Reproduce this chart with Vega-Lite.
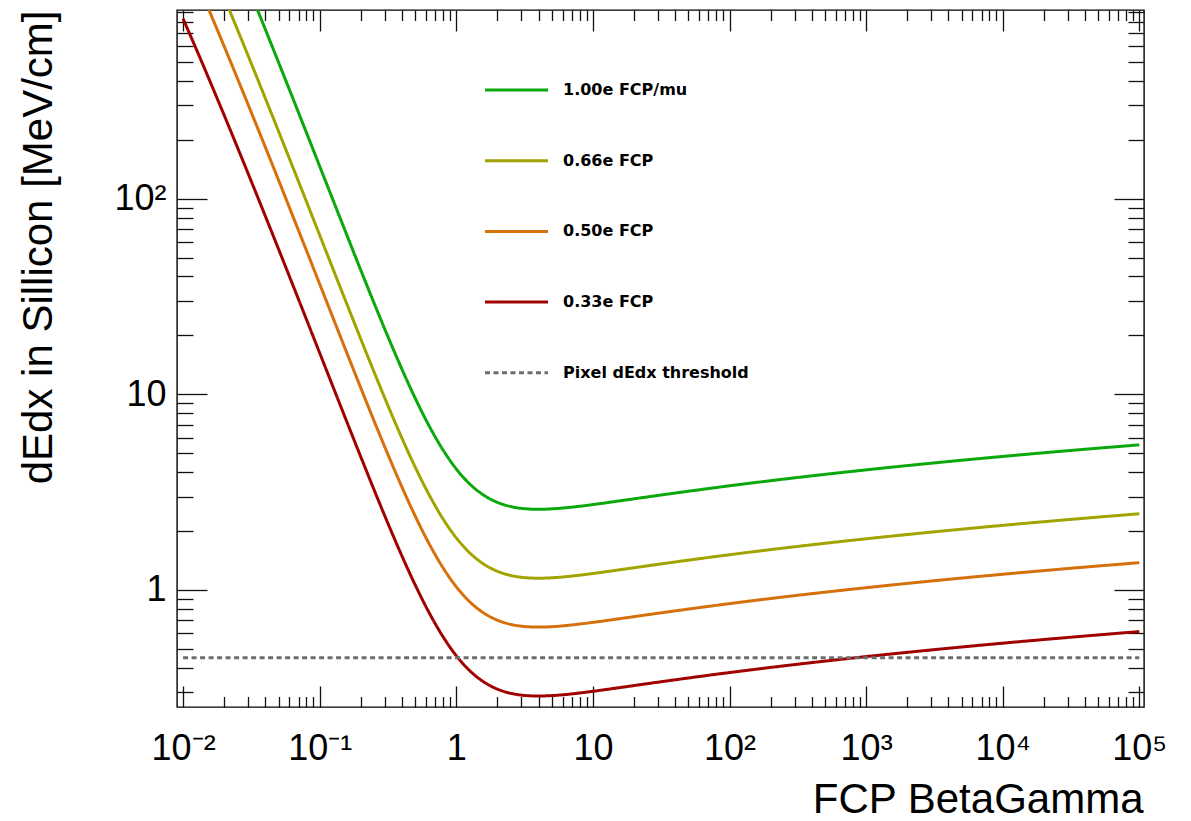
{
  "$schema": "https://vega.github.io/schema/vega-lite/v6.json",
  "width": 967,
  "height": 697,
  "autosize": {"type": "none"},
  "padding": {"left": 177, "top": 10, "right": 47, "bottom": 114},
  "background": "white",
  "config": {
    "font": "Liberation Sans",
    "view": {"stroke": "#000", "strokeWidth": 1.4},
    "axis": {
      "domain": false, "grid": false, "tickColor": "#111", "tickWidth": 1.3,
      "labelFont": "Liberation Sans", "labelFontSize": 36, "labelColor": "#000",
      "titleFont": "Liberation Sans", "titleFontSize": 42, "titleFontWeight": "normal", "titleColor": "#000",
      "labelFlush": false, "labelOverlap": false
    },
    "legend": {
      "orient": "none", "legendX": 306.5, "legendY": 47, "padding": 0, "offset": 0,
      "symbolType": "stroke", "symbolSize": 3969, "symbolStrokeWidth": 3,
      "labelFont": "DejaVu Sans", "labelFontSize": 16, "labelFontWeight": "bold", "labelColor": "#000",
      "rowPadding": 29.7, "labelOffset": 13.5, "labelLimit": 400, "title": null
    }
  },
  "datasets": {
    "curves": [
      {"bg": 0.031623, "dEdx": 1099.2, "series": "1.00e FCP/mu"},
      {"bg": 0.039811, "dEdx": 738.3, "series": "1.00e FCP/mu"},
      {"bg": 0.050119, "dEdx": 494.3, "series": "1.00e FCP/mu"},
      {"bg": 0.063096, "dEdx": 330.0, "series": "1.00e FCP/mu"},
      {"bg": 0.079433, "dEdx": 219.9, "series": "1.00e FCP/mu"},
      {"bg": 0.1, "dEdx": 146.3, "series": "1.00e FCP/mu"},
      {"bg": 0.12589, "dEdx": 97.29, "series": "1.00e FCP/mu"},
      {"bg": 0.15849, "dEdx": 64.76, "series": "1.00e FCP/mu"},
      {"bg": 0.19953, "dEdx": 43.23, "series": "1.00e FCP/mu"},
      {"bg": 0.25119, "dEdx": 29.015, "series": "1.00e FCP/mu"},
      {"bg": 0.31623, "dEdx": 19.663, "series": "1.00e FCP/mu"},
      {"bg": 0.39811, "dEdx": 13.529, "series": "1.00e FCP/mu"},
      {"bg": 0.50119, "dEdx": 9.521, "series": "1.00e FCP/mu"},
      {"bg": 0.63096, "dEdx": 6.915, "series": "1.00e FCP/mu"},
      {"bg": 0.79433, "dEdx": 5.231, "series": "1.00e FCP/mu"},
      {"bg": 1, "dEdx": 4.1534, "series": "1.00e FCP/mu"},
      {"bg": 1.2589, "dEdx": 3.4736, "series": "1.00e FCP/mu"},
      {"bg": 1.5849, "dEdx": 3.0542, "series": "1.00e FCP/mu"},
      {"bg": 1.9953, "dEdx": 2.8052, "series": "1.00e FCP/mu"},
      {"bg": 2.5119, "dEdx": 2.6675, "series": "1.00e FCP/mu"},
      {"bg": 3.1623, "dEdx": 2.6024, "series": "1.00e FCP/mu"},
      {"bg": 3.9811, "dEdx": 2.5848, "series": "1.00e FCP/mu"},
      {"bg": 5.0119, "dEdx": 2.5979, "series": "1.00e FCP/mu"},
      {"bg": 6.3096, "dEdx": 2.6311, "series": "1.00e FCP/mu"},
      {"bg": 7.9433, "dEdx": 2.6774, "series": "1.00e FCP/mu"},
      {"bg": 10, "dEdx": 2.7322, "series": "1.00e FCP/mu"},
      {"bg": 15.849, "dEdx": 2.8562, "series": "1.00e FCP/mu"},
      {"bg": 31.623, "dEdx": 3.0584, "series": "1.00e FCP/mu"},
      {"bg": 100, "dEdx": 3.4071, "series": "1.00e FCP/mu"},
      {"bg": 316.23, "dEdx": 3.7584, "series": "1.00e FCP/mu"},
      {"bg": 1000, "dEdx": 4.110, "series": "1.00e FCP/mu"},
      {"bg": 3162.3, "dEdx": 4.4616, "series": "1.00e FCP/mu"},
      {"bg": 10000, "dEdx": 4.8132, "series": "1.00e FCP/mu"},
      {"bg": 31623, "dEdx": 5.1648, "series": "1.00e FCP/mu"},
      {"bg": 100000, "dEdx": 5.5164, "series": "1.00e FCP/mu"},

      {"bg": 0.019953, "dEdx": 1069.4, "series": "0.66e FCP"},
      {"bg": 0.025119, "dEdx": 724.4, "series": "0.66e FCP"},
      {"bg": 0.031623, "dEdx": 488.5, "series": "0.66e FCP"},
      {"bg": 0.039811, "dEdx": 328.1, "series": "0.66e FCP"},
      {"bg": 0.050119, "dEdx": 219.7, "series": "0.66e FCP"},
      {"bg": 0.063096, "dEdx": 146.7, "series": "0.66e FCP"},
      {"bg": 0.079433, "dEdx": 97.73, "series": "0.66e FCP"},
      {"bg": 0.1, "dEdx": 65.02, "series": "0.66e FCP"},
      {"bg": 0.12589, "dEdx": 43.24, "series": "0.66e FCP"},
      {"bg": 0.15849, "dEdx": 28.78, "series": "0.66e FCP"},
      {"bg": 0.19953, "dEdx": 19.21, "series": "0.66e FCP"},
      {"bg": 0.25119, "dEdx": 12.896, "series": "0.66e FCP"},
      {"bg": 0.31623, "dEdx": 8.739, "series": "0.66e FCP"},
      {"bg": 0.39811, "dEdx": 6.013, "series": "0.66e FCP"},
      {"bg": 0.50119, "dEdx": 4.232, "series": "0.66e FCP"},
      {"bg": 0.63096, "dEdx": 3.073, "series": "0.66e FCP"},
      {"bg": 0.79433, "dEdx": 2.325, "series": "0.66e FCP"},
      {"bg": 1, "dEdx": 1.846, "series": "0.66e FCP"},
      {"bg": 1.2589, "dEdx": 1.5438, "series": "0.66e FCP"},
      {"bg": 1.5849, "dEdx": 1.3574, "series": "0.66e FCP"},
      {"bg": 1.9953, "dEdx": 1.2468, "series": "0.66e FCP"},
      {"bg": 2.5119, "dEdx": 1.1856, "series": "0.66e FCP"},
      {"bg": 3.1623, "dEdx": 1.1566, "series": "0.66e FCP"},
      {"bg": 3.9811, "dEdx": 1.1488, "series": "0.66e FCP"},
      {"bg": 5.0119, "dEdx": 1.1546, "series": "0.66e FCP"},
      {"bg": 6.3096, "dEdx": 1.1694, "series": "0.66e FCP"},
      {"bg": 7.9433, "dEdx": 1.19, "series": "0.66e FCP"},
      {"bg": 10, "dEdx": 1.2143, "series": "0.66e FCP"},
      {"bg": 15.849, "dEdx": 1.2694, "series": "0.66e FCP"},
      {"bg": 31.623, "dEdx": 1.3593, "series": "0.66e FCP"},
      {"bg": 100, "dEdx": 1.5143, "series": "0.66e FCP"},
      {"bg": 316.23, "dEdx": 1.6704, "series": "0.66e FCP"},
      {"bg": 1000, "dEdx": 1.8267, "series": "0.66e FCP"},
      {"bg": 3162.3, "dEdx": 1.9829, "series": "0.66e FCP"},
      {"bg": 10000, "dEdx": 2.1392, "series": "0.66e FCP"},
      {"bg": 31623, "dEdx": 2.2955, "series": "0.66e FCP"},
      {"bg": 100000, "dEdx": 2.4517, "series": "0.66e FCP"},

      {"bg": 0.012589, "dEdx": 1288.8, "series": "0.50e FCP"},
      {"bg": 0.015849, "dEdx": 883.3, "series": "0.50e FCP"},
      {"bg": 0.019953, "dEdx": 601.6, "series": "0.50e FCP"},
      {"bg": 0.025119, "dEdx": 407.5, "series": "0.50e FCP"},
      {"bg": 0.031623, "dEdx": 274.8, "series": "0.50e FCP"},
      {"bg": 0.039811, "dEdx": 184.6, "series": "0.50e FCP"},
      {"bg": 0.050119, "dEdx": 123.6, "series": "0.50e FCP"},
      {"bg": 0.063096, "dEdx": 82.5, "series": "0.50e FCP"},
      {"bg": 0.079433, "dEdx": 54.98, "series": "0.50e FCP"},
      {"bg": 0.1, "dEdx": 36.58, "series": "0.50e FCP"},
      {"bg": 0.12589, "dEdx": 24.32, "series": "0.50e FCP"},
      {"bg": 0.15849, "dEdx": 16.19, "series": "0.50e FCP"},
      {"bg": 0.19953, "dEdx": 10.81, "series": "0.50e FCP"},
      {"bg": 0.25119, "dEdx": 7.254, "series": "0.50e FCP"},
      {"bg": 0.31623, "dEdx": 4.916, "series": "0.50e FCP"},
      {"bg": 0.39811, "dEdx": 3.382, "series": "0.50e FCP"},
      {"bg": 0.50119, "dEdx": 2.380, "series": "0.50e FCP"},
      {"bg": 0.63096, "dEdx": 1.7288, "series": "0.50e FCP"},
      {"bg": 0.79433, "dEdx": 1.3078, "series": "0.50e FCP"},
      {"bg": 1, "dEdx": 1.0384, "series": "0.50e FCP"},
      {"bg": 1.2589, "dEdx": 0.8684, "series": "0.50e FCP"},
      {"bg": 1.5849, "dEdx": 0.7636, "series": "0.50e FCP"},
      {"bg": 1.9953, "dEdx": 0.7013, "series": "0.50e FCP"},
      {"bg": 2.5119, "dEdx": 0.6669, "series": "0.50e FCP"},
      {"bg": 3.1623, "dEdx": 0.6506, "series": "0.50e FCP"},
      {"bg": 3.9811, "dEdx": 0.6462, "series": "0.50e FCP"},
      {"bg": 5.0119, "dEdx": 0.6495, "series": "0.50e FCP"},
      {"bg": 6.3096, "dEdx": 0.6578, "series": "0.50e FCP"},
      {"bg": 7.9433, "dEdx": 0.6694, "series": "0.50e FCP"},
      {"bg": 10, "dEdx": 0.6831, "series": "0.50e FCP"},
      {"bg": 15.849, "dEdx": 0.7141, "series": "0.50e FCP"},
      {"bg": 31.623, "dEdx": 0.7646, "series": "0.50e FCP"},
      {"bg": 100, "dEdx": 0.8518, "series": "0.50e FCP"},
      {"bg": 316.23, "dEdx": 0.9396, "series": "0.50e FCP"},
      {"bg": 1000, "dEdx": 1.0275, "series": "0.50e FCP"},
      {"bg": 3162.3, "dEdx": 1.1154, "series": "0.50e FCP"},
      {"bg": 10000, "dEdx": 1.2033, "series": "0.50e FCP"},
      {"bg": 31623, "dEdx": 1.2912, "series": "0.50e FCP"},
      {"bg": 100000, "dEdx": 1.3791, "series": "0.50e FCP"},

      {"bg": 0.01, "dEdx": 829.7, "series": "0.33e FCP"},
      {"bg": 0.012589, "dEdx": 572.8, "series": "0.33e FCP"},
      {"bg": 0.015849, "dEdx": 392.6, "series": "0.33e FCP"},
      {"bg": 0.019953, "dEdx": 267.4, "series": "0.33e FCP"},
      {"bg": 0.025119, "dEdx": 181.1, "series": "0.33e FCP"},
      {"bg": 0.031623, "dEdx": 122.13, "series": "0.33e FCP"},
      {"bg": 0.039811, "dEdx": 82.03, "series": "0.33e FCP"},
      {"bg": 0.050119, "dEdx": 54.92, "series": "0.33e FCP"},
      {"bg": 0.063096, "dEdx": 36.67, "series": "0.33e FCP"},
      {"bg": 0.079433, "dEdx": 24.43, "series": "0.33e FCP"},
      {"bg": 0.1, "dEdx": 16.256, "series": "0.33e FCP"},
      {"bg": 0.12589, "dEdx": 10.81, "series": "0.33e FCP"},
      {"bg": 0.15849, "dEdx": 7.196, "series": "0.33e FCP"},
      {"bg": 0.19953, "dEdx": 4.803, "series": "0.33e FCP"},
      {"bg": 0.25119, "dEdx": 3.224, "series": "0.33e FCP"},
      {"bg": 0.31623, "dEdx": 2.1848, "series": "0.33e FCP"},
      {"bg": 0.39811, "dEdx": 1.5032, "series": "0.33e FCP"},
      {"bg": 0.50119, "dEdx": 1.0579, "series": "0.33e FCP"},
      {"bg": 0.63096, "dEdx": 0.7683, "series": "0.33e FCP"},
      {"bg": 0.79433, "dEdx": 0.5812, "series": "0.33e FCP"},
      {"bg": 1, "dEdx": 0.4615, "series": "0.33e FCP"},
      {"bg": 1.2589, "dEdx": 0.386, "series": "0.33e FCP"},
      {"bg": 1.5849, "dEdx": 0.3394, "series": "0.33e FCP"},
      {"bg": 1.9953, "dEdx": 0.3117, "series": "0.33e FCP"},
      {"bg": 2.5119, "dEdx": 0.2964, "series": "0.33e FCP"},
      {"bg": 3.1623, "dEdx": 0.2892, "series": "0.33e FCP"},
      {"bg": 3.9811, "dEdx": 0.2872, "series": "0.33e FCP"},
      {"bg": 5.0119, "dEdx": 0.2887, "series": "0.33e FCP"},
      {"bg": 6.3096, "dEdx": 0.2923, "series": "0.33e FCP"},
      {"bg": 7.9433, "dEdx": 0.2975, "series": "0.33e FCP"},
      {"bg": 10, "dEdx": 0.3036, "series": "0.33e FCP"},
      {"bg": 15.849, "dEdx": 0.3174, "series": "0.33e FCP"},
      {"bg": 31.623, "dEdx": 0.3398, "series": "0.33e FCP"},
      {"bg": 100, "dEdx": 0.3786, "series": "0.33e FCP"},
      {"bg": 316.23, "dEdx": 0.4176, "series": "0.33e FCP"},
      {"bg": 1000, "dEdx": 0.4567, "series": "0.33e FCP"},
      {"bg": 3162.3, "dEdx": 0.4957, "series": "0.33e FCP"},
      {"bg": 10000, "dEdx": 0.5348, "series": "0.33e FCP"},
      {"bg": 31623, "dEdx": 0.5739, "series": "0.33e FCP"},
      {"bg": 100000, "dEdx": 0.6129, "series": "0.33e FCP"},

      {"bg": 0.01, "dEdx": 0.45, "series": "Pixel dEdx threshold"},
      {"bg": 100000, "dEdx": 0.45, "series": "Pixel dEdx threshold"}
    ],
    "thr": [
      {"bg": 0.01, "dEdx": 0.45},
      {"bg": 100000, "dEdx": 0.45}
    ]
  },
  "layer": [
    {
      "data": {"name": "curves"},
      "mark": {"type": "line", "clip": true, "strokeWidth": 3, "interpolate": "monotone"},
      "encoding": {
        "x": {
          "field": "bg", "type": "quantitative",
          "scale": {"type": "log", "domain": [0.009022, 108250], "nice": false},
          "axis": {
            "orient": "bottom", "values": [0.01, 0.1, 1, 10, 100, 1000, 10000, 100000],
            "tickSize": -21, "labelPadding": 45, "labelBaseline": "top",
            "labelExpr": "datum.value < 0.05 ? '10⁻²' : datum.value < 0.5 ? '10⁻¹' : datum.value < 5 ? '1' : datum.value < 50 ? '10' : datum.value < 500 ? '10²' : datum.value < 5000 ? '10³' : datum.value < 50000 ? '10⁴' : '10⁵'",
            "title": "FCP  BetaGamma", "titleX": 966, "titleY": 105, "titleAlign": "right", "titleAnchor": "end", "titleBaseline": "alphabetic"
          }
        },
        "y": {
          "field": "dEdx", "type": "quantitative",
          "scale": {"type": "log", "domain": [0.2524, 919.9], "nice": false},
          "axis": {
            "orient": "left", "values": [1, 10, 100],
            "tickSize": -30, "labelPadding": 41, "labelBaseline": "middle", "labelAlign": "right",
            "labelExpr": "datum.value < 5 ? '1' : datum.value < 50 ? '10' : '10²'",
            "title": "dEdx in Sillicon [MeV/cm]", "titleX": -125.3, "titleY": 0, "titleAngle": -90,
            "titleAlign": "right", "titleAnchor": "end", "titleBaseline": "alphabetic"
          }
        },
        "color": {
          "field": "series", "type": "nominal",
          "scale": {
            "domain": ["1.00e FCP/mu", "0.66e FCP", "0.50e FCP", "0.33e FCP", "Pixel dEdx threshold"],
            "range": ["#0aa80a", "#a3a300", "#d6700a", "#a00000", "#6e6e6e"]
          }
        },
        "strokeDash": {
          "field": "series", "type": "nominal",
          "scale": {
            "domain": ["1.00e FCP/mu", "0.66e FCP", "0.50e FCP", "0.33e FCP", "Pixel dEdx threshold"],
            "range": [[1, 0], [1, 0], [1, 0], [1, 0], [5, 3.5]]
          }
        }
      }
    },
    {
      "data": {"name": "thr"},
      "mark": {"type": "line", "strokeOpacity": 0},
      "encoding": {
        "x": {
          "field": "bg", "type": "quantitative",
          "scale": {"type": "log", "domain": [0.009022, 108250], "nice": false},
          "axis": {
            "orient": "bottom", "labels": false, "title": null, "tickSize": -10.5,
            "values": [0.02,0.03,0.04,0.05,0.06,0.07,0.08,0.09,0.2,0.3,0.4,0.5,0.6,0.7,0.8,0.9,2,3,4,5,6,7,8,9,20,30,40,50,60,70,80,90,200,300,400,500,600,700,800,900,2000,3000,4000,5000,6000,7000,8000,9000,20000,30000,40000,50000,60000,70000,80000,90000]
          }
        },
        "y": {
          "field": "dEdx", "type": "quantitative",
          "scale": {"type": "log", "domain": [0.2524, 919.9], "nice": false},
          "axis": {
            "orient": "left", "labels": false, "title": null, "tickSize": -16,
            "values": [0.3,0.4,0.5,0.6,0.7,0.8,0.9,2,3,4,5,6,7,8,9,20,30,40,50,60,70,80,90,200,300,400,500,600,700,800,900]
          }
        }
      }
    },
    {
      "data": {"name": "thr"},
      "mark": {"type": "line", "strokeOpacity": 0},
      "encoding": {
        "x": {
          "field": "bg", "type": "quantitative",
          "scale": {"type": "log", "domain": [0.009022, 108250], "nice": false},
          "axis": {"orient": "top", "labels": false, "title": null, "tickSize": -21, "values": [0.01, 0.1, 1, 10, 100, 1000, 10000, 100000]}
        },
        "y": {
          "field": "dEdx", "type": "quantitative",
          "scale": {"type": "log", "domain": [0.2524, 919.9], "nice": false},
          "axis": {"orient": "right", "labels": false, "title": null, "tickSize": -30, "values": [1, 10, 100]}
        }
      }
    },
    {
      "data": {"name": "thr"},
      "mark": {"type": "line", "strokeOpacity": 0},
      "encoding": {
        "x": {
          "field": "bg", "type": "quantitative",
          "scale": {"type": "log", "domain": [0.009022, 108250], "nice": false},
          "axis": {
            "orient": "top", "labels": false, "title": null, "tickSize": -10.5,
            "values": [0.02,0.03,0.04,0.05,0.06,0.07,0.08,0.09,0.2,0.3,0.4,0.5,0.6,0.7,0.8,0.9,2,3,4,5,6,7,8,9,20,30,40,50,60,70,80,90,200,300,400,500,600,700,800,900,2000,3000,4000,5000,6000,7000,8000,9000,20000,30000,40000,50000,60000,70000,80000,90000]
          }
        },
        "y": {
          "field": "dEdx", "type": "quantitative",
          "scale": {"type": "log", "domain": [0.2524, 919.9], "nice": false},
          "axis": {
            "orient": "right", "labels": false, "title": null, "tickSize": -16,
            "values": [0.3,0.4,0.5,0.6,0.7,0.8,0.9,2,3,4,5,6,7,8,9,20,30,40,50,60,70,80,90,200,300,400,500,600,700,800,900]
          }
        }
      }
    }
  ],
  "resolve": {"axis": {"x": "independent", "y": "independent"}}
}
